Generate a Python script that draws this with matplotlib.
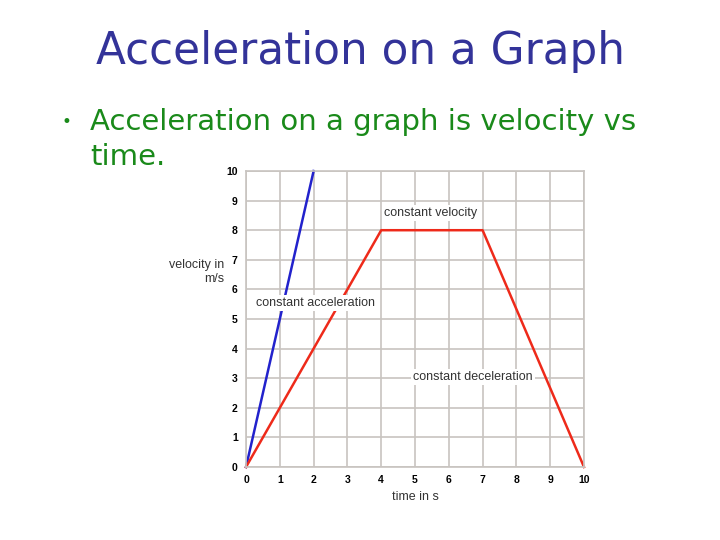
import matplotlib
matplotlib.use("Agg")
import matplotlib.pyplot as plt

# Data
blue_t = [0, 2]
blue_v = [0, 10]
red_t = [0, 4, 7, 10]
red_v = [0, 8, 8, 0]
ticks = list(range(0, 11))
annotations = [("constant velocity", 5.45, 8.58),
               ("constant acceleration", 2.05, 5.55),
               ("constant deceleration", 6.72, 3.05)]

fig = plt.figure(figsize=(7.2, 5.4), dpi=100)
fig.patch.set_facecolor("white")

fig.text(0.5, 0.905, "Acceleration on a Graph", ha="center", va="center",
         fontsize=31.5, color="#333399", family="DejaVu Sans")
fig.text(0.085, 0.774, "\u2022", ha="left", va="center", fontsize=12, color="#1a8a1a")
fig.text(0.125, 0.774, "Acceleration on a graph is velocity vs", ha="left", va="center",
         fontsize=21, color="#1a8a1a", family="DejaVu Sans")
fig.text(0.125, 0.709, "time.", ha="left", va="center",
         fontsize=21, color="#1a8a1a", family="DejaVu Sans")

ax = fig.add_axes([0.3417, 0.1352, 0.4694, 0.5481])
ax.set_xlim(0, 10)
ax.set_ylim(0, 10)
ax.set_xticks(ticks)
ax.set_yticks(ticks)
ax.grid(True, color="#c8c4c0", linewidth=1.2)
ax.set_axisbelow(True)
for s in ax.spines.values():
    s.set_color("#c8c4c0")
    s.set_linewidth(1.2)
ax.tick_params(length=0, labelsize=7.5, pad=6)
for lab in ax.get_xticklabels() + ax.get_yticklabels():
    lab.set_fontweight("bold")
    lab.set_family("Liberation Sans")

ax.plot(blue_t, blue_v, color="#2222cc", linewidth=1.8, clip_on=False)
ax.plot(red_t, red_v, color="#ee2a1a", linewidth=1.8, clip_on=False)

for txt, x, y in annotations:
    ax.text(x, y, txt, ha="center", va="center", fontsize=9, color="#333333",
            family="Liberation Sans",
            bbox=dict(facecolor="white", edgecolor="none", pad=1.5))

ax.set_xlabel("time in s", fontsize=9, color="#333333", labelpad=4, family="Liberation Sans")
fig.text(0.311, 0.497, "velocity in\nm/s", ha="right", va="center",
         fontsize=9, color="#333333", linespacing=1.2, family="Liberation Sans")

fig.savefig("out.png", dpi=100)
